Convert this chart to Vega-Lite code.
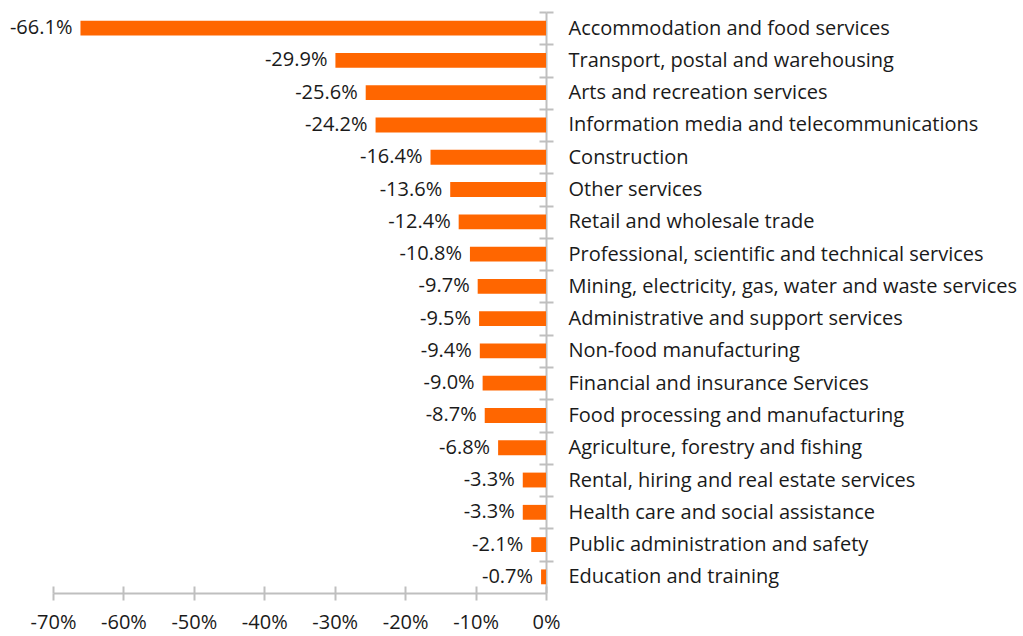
{
  "$schema": "https://vega.github.io/schema/vega-lite/v6.json",
  "autosize": "none",
  "width": 493,
  "height": 581,
  "padding": {"left": 53, "top": 12, "right": 477, "bottom": 43},
  "background": "white",
  "config": {
    "locale": {"number": {"decimal": ".", "thousands": ",", "grouping": [3], "currency": ["$", ""], "minus": "-"}},
    "view": {"stroke": null},
    "font": "Open Sans"
  },
  "resolve": {"axis": {"x": "independent", "y": "independent"}},
  "data": {
    "values": [
      {"industry": "Accommodation and food services", "change": -0.661},
      {"industry": "Transport, postal and warehousing", "change": -0.299},
      {"industry": "Arts and recreation services", "change": -0.256},
      {"industry": "Information media and telecommunications", "change": -0.242},
      {"industry": "Construction", "change": -0.164},
      {"industry": "Other services", "change": -0.136},
      {"industry": "Retail and wholesale trade", "change": -0.124},
      {"industry": "Professional, scientific and technical services", "change": -0.108},
      {"industry": "Mining, electricity, gas, water and waste services", "change": -0.097},
      {"industry": "Administrative and support services", "change": -0.095},
      {"industry": "Non-food manufacturing", "change": -0.094},
      {"industry": "Financial and insurance Services", "change": -0.090},
      {"industry": "Food processing and manufacturing", "change": -0.087},
      {"industry": "Agriculture, forestry and fishing", "change": -0.068},
      {"industry": "Rental, hiring and real estate services", "change": -0.033},
      {"industry": "Health care and social assistance", "change": -0.033},
      {"industry": "Public administration and safety", "change": -0.021},
      {"industry": "Education and training", "change": -0.007}
    ]
  },
  "layer": [
    {
      "mark": {"type": "bar", "color": "#FF6600"},
      "encoding": {
        "y": {
          "field": "industry",
          "type": "nominal",
          "sort": null,
          "scale": {"paddingInner": 0.54, "paddingOuter": 0.27},
          "axis": {
            "orient": "right",
            "title": null,
            "domainColor": "#BFBFBF",
            "domainWidth": 2,
            "tickColor": "#BFBFBF",
            "tickWidth": 2,
            "tickSize": 7,
            "tickOffset": -16.14,
            "labelOffset": 16.14,
            "labelPadding": 15,
            "labelFontSize": 20,
            "labelColor": "#1a1a1a",
            "labelLimit": 0,
            "labelFont": "Open Sans"
          }
        },
        "x": {
          "field": "change",
          "type": "quantitative",
          "scale": {"domain": [-0.7, 0], "nice": false},
          "axis": {
            "orient": "bottom",
            "title": null,
            "format": ".0%",
            "values": [-0.7, -0.6, -0.5, -0.4, -0.3, -0.2, -0.1, 0],
            "grid": false,
            "labelFlush": false,
            "domainColor": "#BFBFBF",
            "domainWidth": 2,
            "tickColor": "#BFBFBF",
            "tickWidth": 2,
            "tickSize": 7,
            "labelPadding": 12,
            "labelFontSize": 20,
            "labelColor": "#1a1a1a",
            "labelFont": "Open Sans"
          }
        }
      }
    },
    {
      "mark": {"type": "text", "align": "right", "baseline": "middle", "dx": -8, "fontSize": 20, "color": "#1a1a1a", "font": "Open Sans"},
      "encoding": {
        "y": {
          "field": "industry",
          "type": "nominal",
          "sort": null,
          "axis": {
            "orient": "left",
            "offset": -493,
            "title": null,
            "domain": false,
            "labels": false,
            "tickColor": "#BFBFBF",
            "tickWidth": 2,
            "tickSize": 7,
            "tickOffset": -16.14
          }
        },
        "x": {
          "field": "change",
          "type": "quantitative",
          "axis": {
            "orient": "top",
            "offset": -581,
            "title": null,
            "domain": false,
            "labels": false,
            "grid": false,
            "values": [-0.7, -0.6, -0.5, -0.4, -0.3, -0.2, -0.1, 0],
            "tickColor": "#BFBFBF",
            "tickWidth": 2,
            "tickSize": 7
          }
        },
        "text": {"field": "change", "type": "quantitative", "format": ".1%"}
      }
    }
  ]
}
